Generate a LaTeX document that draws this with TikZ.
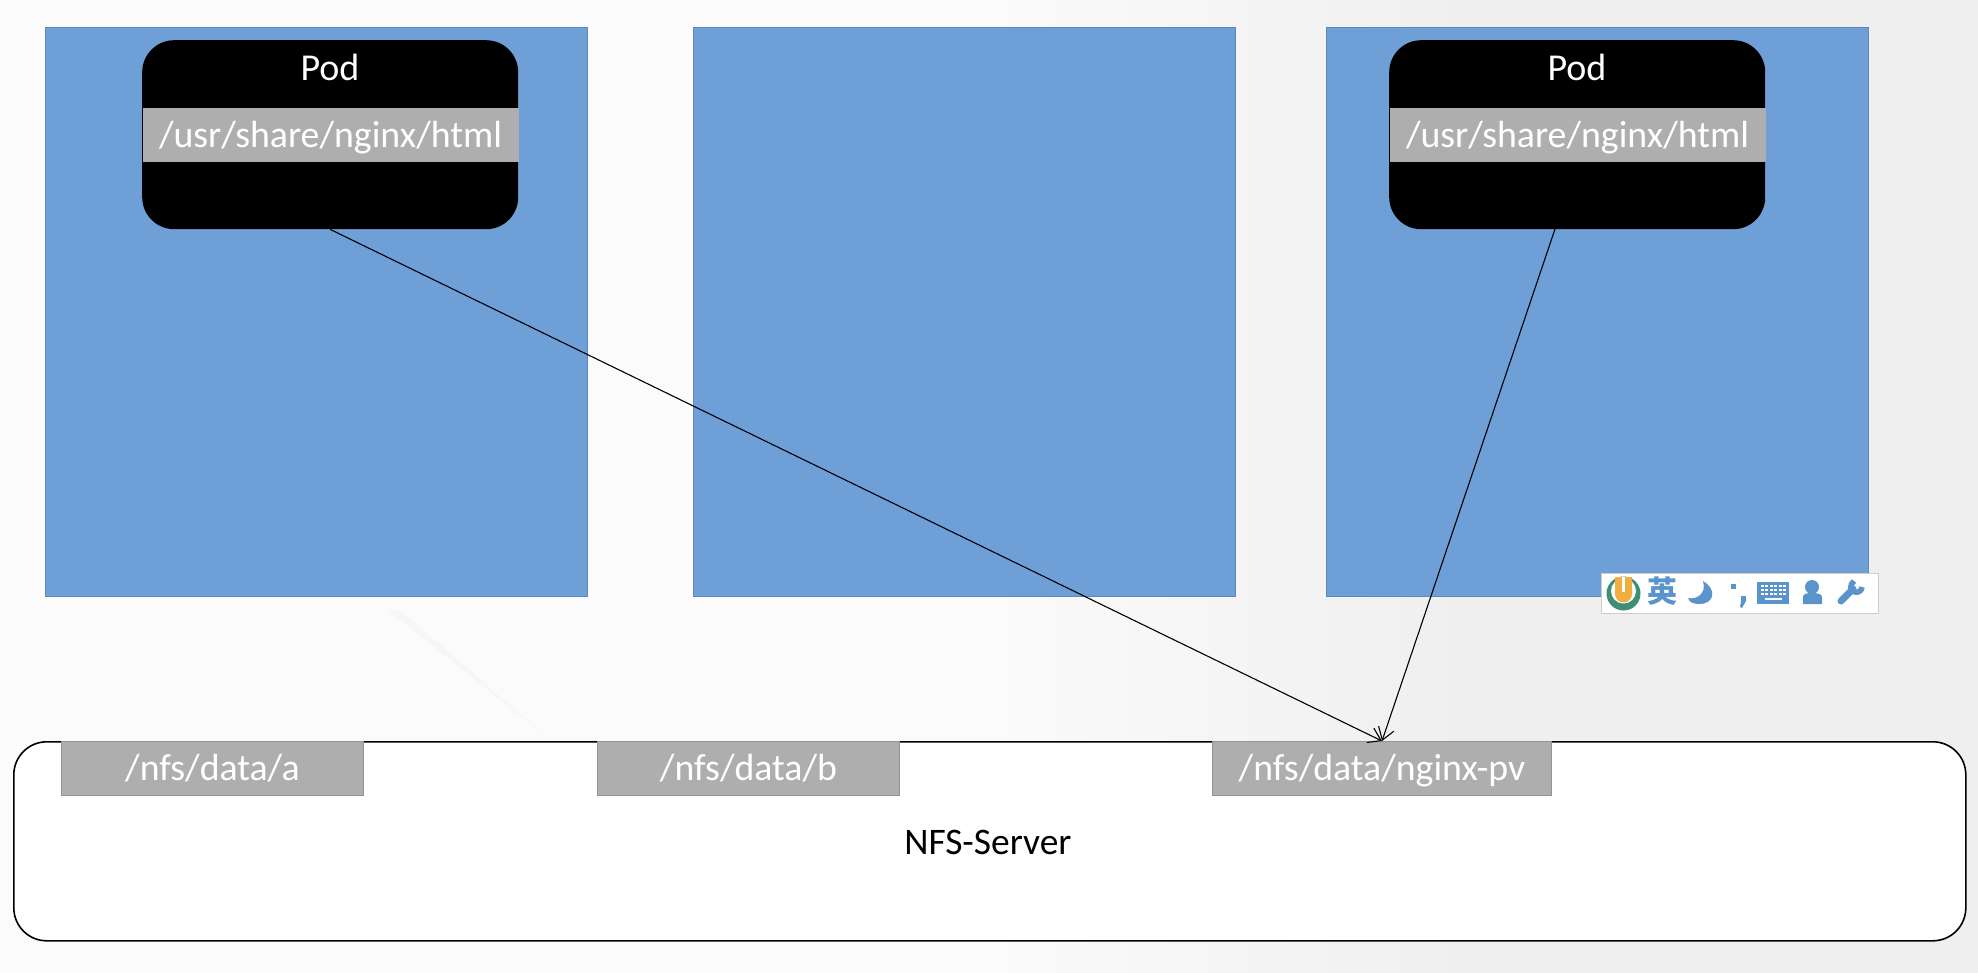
\documentclass[tikz,border=0pt]{standalone}
\usepackage{fontspec}
\setmainfont{Carlito}
\newfontfamily\cjkfont{Noto Sans CJK SC}
\usetikzlibrary{arrows.meta}
\definecolor{pageleft}{HTML}{FBFBFB}
\definecolor{pageright}{HTML}{EFEFEF}
\definecolor{facet}{HTML}{F3F3F3}
\definecolor{nodeblue}{HTML}{6F9FD7}
\definecolor{nodeedge}{HTML}{5F88B8}
\definecolor{pathgrey}{HTML}{AEAEAE}
\definecolor{pathedge}{HTML}{949494}
\definecolor{imeblue}{HTML}{5B93CC}
\definecolor{imegreen}{HTML}{3F8F78}
\definecolor{imeyellow}{HTML}{EFAE3E}
\pgfdeclarehorizontalshading{pagewash}{100bp}{
  color(0bp)=(pageleft); color(50bp)=(pageleft); color(62bp)=(pageright); color(100bp)=(pageright)}
\tikzset{
  x=1pt,y=-1pt,
  worker/.style={draw=nodeedge,line width=1pt,fill=nodeblue,minimum width=542pt,minimum height=569pt,inner sep=0pt,anchor=north west},
  podbox/.style={fill=black,rounded corners=32pt,minimum width=376pt,minimum height=189pt,inner sep=0pt,anchor=north west},
  podtitle/.style={text=white,font=\fontsize{38}{38}\selectfont,inner sep=0pt},
  pathbar/.style={draw=pathedge,line width=1pt,fill=pathgrey,text=white,font=\fontsize{37.8}{38}\selectfont,inner sep=0pt,minimum height=54pt,anchor=north west,text height=27pt,text depth=3pt},
  podbar/.style={pathbar,draw=none,minimum width=376pt,text depth=1pt},
  server/.style={draw=black,line width=1.6pt,fill=white,rounded corners=33pt,minimum width=1952pt,minimum height=199pt,inner sep=0pt,anchor=north west},
  mount/.style={draw=black,line width=1.1pt,-{Straight Barb[length=12pt,width=16pt,line width=1.1pt]}},
}
\begin{document}
\begin{tikzpicture}
\useasboundingbox (0,0) rectangle (1978,972);
% page background: a soft wash with one faint facet edge
\shade[shading=pagewash] (0,0) rectangle (1978,972);
\fill[facet,opacity=.5] (388,610) -- (400,610) -- (548,738) -- cycle;

% worker machines
\node[worker] (nodeA) at (45,27) {};
\node[worker] (nodeB) at (693,27) {};
\node[worker] (nodeC) at (1326,27) {};

% pods with their mounted directory
\node[podbox] (podA) at (142,40) {};
\node[podbox] (podC) at (1389,40) {};
\node[podtitle] (podAtitle) at (330,67) {Pod};
\node[podtitle] (podCtitle) at (1577,67) {Pod};
\node[podbar] (podApath) at (142,107) {/usr/share/nginx/html};
\node[podbar] (podCpath) at (1389,107) {/usr/share/nginx/html};
\coordinate (podCout) at (1555,229);

% storage server and its exports
\node[server] (nfs) at (13,741) {};
\node[font=\fontsize{37.5}{38}\selectfont,inner sep=0pt] (nfslabel) at (988,842) {NFS-Server};
\node[pathbar,minimum width=302pt] (expA) at (61,741) {/nfs/data/a};
\node[pathbar,minimum width=302pt] (expB) at (597,741) {/nfs/data/b};
\node[pathbar,minimum width=339pt] (expPv) at (1212,741) {/nfs/data/nginx-pv};

% volume mounts
\draw[mount] (podA.south) -- (expPv.north);
\draw[mount] (podCout) -- (expPv.north);

% input method toolbar
\node[draw=black!20,line width=1pt,fill=white,minimum width=277pt,minimum height=40pt,inner sep=0pt,anchor=north west] (ime) at (1601,573) {};
% logo: green ring around a yellow U
\fill[imegreen] (1623.5,593.5) circle[radius=17];
\fill[white] (1623.5,591) circle[radius=12.5];
\fill[imeyellow] (1615,577) -- (1632,577) -- (1632,594) arc[start angle=0,end angle=180,radius=8.5] -- cycle;
\fill[white] (1622,577) rectangle (1625,592);
% language indicator
\node[text=imeblue,font=\cjkfont\fontsize{30}{30}\selectfont,inner sep=0pt] (imelang) at (1662,591) {\textbf{英}};
% moon
\fill[imeblue] (1703,581) .. controls (1716,588) and (1716,604) .. (1699,604) .. controls (1693,604) and (1689,602) .. (1688,598) .. controls (1696,600) and (1707,594) .. (1703,581) -- cycle;
% punctuation
\fill[imeblue] (1731,584) rectangle (1736,589);
\fill[imeblue] (1741,596) rectangle (1746,601);
\fill[imeblue] (1741,601) -- (1746,601) -- (1742,608) -- (1740,607) -- cycle;
% keyboard
\fill[imeblue] (1757,582) rectangle (1789,604);
\foreach \ky in {586,590,594}{\draw[white,line width=2.4pt,dash pattern=on 3pt off 1.4pt] (1761,\ky) -- (1786,\ky);}
\draw[white,line width=2.4pt] (1765,599) -- (1782,599);
% person
\fill[imeblue] (1812,587) circle[radius=7];
\fill[imeblue] (1803,604) -- (1803,597) .. controls (1803,594) and (1806,593) .. (1812,593) .. controls (1818,593) and (1822,594) .. (1822,597) -- (1822,604) -- cycle;
% wrench
\draw[imeblue,line width=7pt,line cap=round] (1841,601) -- (1853,589);
\draw[imeblue,line width=5.5pt] (1854,581) .. controls (1849,585) and (1850,591) .. (1855,592) .. controls (1859,593) and (1862,590) .. (1862,587);
\end{tikzpicture}
\end{document}
